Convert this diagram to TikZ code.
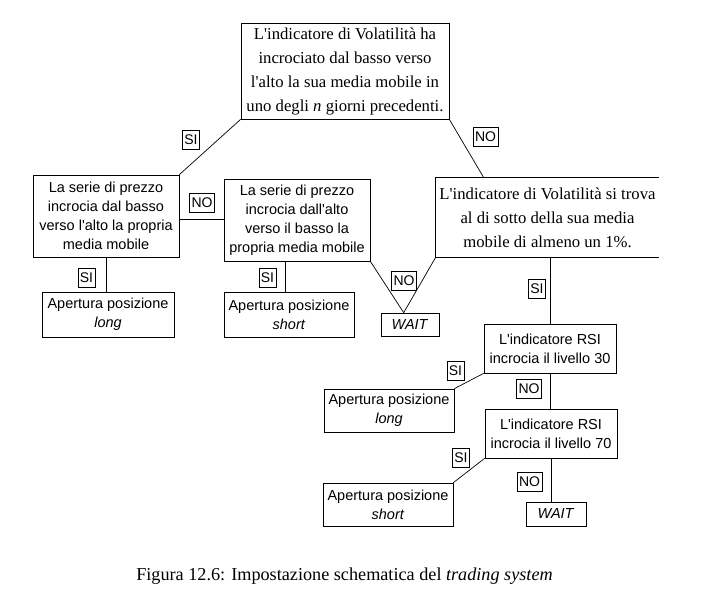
\documentclass[tikz,border=0pt]{standalone}
\usepackage{fontspec}
\setmainfont{Liberation Serif}[Ligatures=TeXOff]
\setsansfont{Liberation Sans}[Ligatures=TeXOff]

\begin{document}
\begin{tikzpicture}[x=1pt, y=-1pt, line width=0.7pt,
    askbox/.style={rectangle, align=center, inner sep=0pt, font=\fontsize{16.7}{24}\selectfont},
    testbox/.style={draw, rectangle, align=center, inner sep=0pt, font=\sffamily\fontsize{14.5}{19}\selectfont},
    tag/.style={draw, rectangle, inner sep=2pt, minimum height=19pt, font=\sffamily\fontsize{14}{16}\selectfont}]
    \useasboundingbox (0,0) rectangle (705,600);

    % Nodes
    \node (volcross) [askbox, draw, minimum width=208pt, minimum height=96pt] at (345,71) {L'indicatore di Volatilità ha\\incrociato dal basso verso\\l'alto la sua media mobile in\\uno degli \textit{n} giorni precedenti.};
    \node (priceup) [testbox, minimum width=146pt, minimum height=82pt] at (106,216) {La serie di prezzo\\incrocia dal basso\\verso l'alto la propria\\media mobile};
    \node (pricedown) [testbox, minimum width=146pt, minimum height=82pt] at (297,220) {La serie di prezzo\\incrocia dall'alto\\verso il basso la\\propria media mobile};
    \node (volbelow) [askbox, minimum width=223pt, minimum height=79pt] at (547.5,217.5) {L'indicatore di Volatilità si trova\\al di sotto della sua media\\mobile di almeno un 1\%.};
    \node (longa) [testbox, minimum width=132pt, minimum height=45pt] at (108,314.5) {Apertura posizione\\\textit{long}};
    \node (shorta) [testbox, minimum width=130pt, minimum height=45pt] at (289,314.5) {Apertura posizione\\\textit{short}};
    \node (waita) [testbox, minimum width=58pt, minimum height=23pt] at (410,324.5) {\textit{WAIT}};
    \node (rsilow) [testbox, minimum width=132pt, minimum height=49pt] at (550,348.5) {L'indicatore RSI\\incrocia il livello 30};
    \node (rsihigh) [testbox, minimum width=132pt, minimum height=49pt] at (551,433.5) {L'indicatore RSI\\incrocia il livello 70};
    \node (longb) [testbox, minimum width=130pt, minimum height=43pt] at (389,410.5) {Apertura posizione\\\textit{long}};
    \node (shortb) [testbox, minimum width=130pt, minimum height=43pt] at (388,504.5) {Apertura posizione\\\textit{short}};
    \node (waitb) [testbox, minimum width=60pt, minimum height=24pt] at (556,514) {\textit{WAIT}};

    % Labels
    \node (si1) [tag] at (191,139.5) {SI};
    \node (no1) [tag] at (485.5,137) {NO};
    \node (no2) [tag] at (202,202.5) {NO};
    \node (si2) [tag] at (86.5,277.5) {SI};
    \node (si3) [tag] at (267.5,277.5) {SI};
    \node (no3) [tag] at (404,281) {NO};
    \node (si4) [tag] at (537,289) {SI};
    \node (si5) [tag] at (455.5,370.5) {SI};
    \node (no4) [tag] at (529,388.5) {NO};
    \node (si6) [tag] at (461,458) {SI};
    \node (no5) [tag] at (529.5,481.5) {NO};

    % Caption
    \node (caption) [anchor=base] at (344.5,580) {\fontsize{18.2}{22}\selectfont Figura 12.6: Impostazione schematica del \textit{trading system}};

    % Lines
    \draw (volbelow.north east) -- (volbelow.north west) -- (volbelow.south west) -- (volbelow.south east);
    \draw (volcross.south west) -- (priceup.north east);
    \draw (volcross.south east) -- (volbelow.148);
    \draw (pricedown.west |- 0,219) -- (priceup.east |- 0,219);
    \draw (priceup.south) -- (priceup.south |- longa.north);
    \draw (shorta.north -| 285,0) -- (pricedown.south -| 285,0);
    \draw (pricedown.south east) -- (waita.118);
    \draw (volbelow.south west) -- (waita.118);
    \draw (rsilow.north) -- (rsilow.north |- volbelow.south);
    \draw (rsilow.south west) -- (longb.north east);
    \draw (rsilow.south) -- (rsilow.south |- rsihigh.north);
    \draw (rsihigh.south west) -- (shortb.north east);
    \draw (rsihigh.south) -- (rsihigh.south |- waitb.north);
\end{tikzpicture}
\end{document}
